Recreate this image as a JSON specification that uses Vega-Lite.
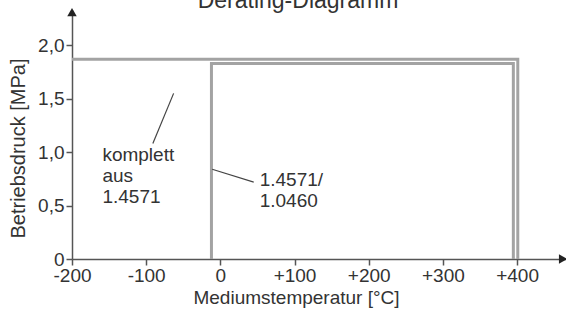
{
  "$schema": "https://vega.github.io/schema/vega-lite/v6.json",
  "autosize": "none",
  "width": 494,
  "height": 249,
  "padding": {"left": 72, "top": 10, "right": 0, "bottom": 54},
  "background": "white",
  "title": {"text": "Derating-Diagramm", "fontSize": 23, "font": "Liberation Sans", "fontWeight": "normal", "color": "#333", "dx": -21, "dy": 23, "baseline": "alphabetic", "offset": 0},
  "config": {
    "view": {"stroke": null},
    "font": "Liberation Sans",
    "axis": {"grid": false, "domainColor": "#555", "domainWidth": 1.5, "tickColor": "#555", "tickWidth": 1.5, "tickSize": 6, "labelFont": "Liberation Sans", "labelFontSize": 19, "labelColor": "#333", "titleFont": "Liberation Sans", "titleFontSize": 19, "titleFontWeight": "normal", "titleColor": "#333"}
  },
  "datasets": {
    "curves": [
      {"series": "komplett", "order": 1, "temp": -200, "druck": 1.87},
      {"series": "komplett", "order": 2, "temp": 401, "druck": 1.87},
      {"series": "komplett", "order": 3, "temp": 401, "druck": 0},
      {"series": "mix", "order": 1, "temp": -12, "druck": 0},
      {"series": "mix", "order": 2, "temp": -12, "druck": 1.83},
      {"series": "mix", "order": 3, "temp": 395, "druck": 1.83},
      {"series": "mix", "order": 4, "temp": 395, "druck": 0}
    ],
    "leaders": [
      {"id": "a", "order": 1, "temp": -91, "druck": 1.08},
      {"id": "a", "order": 2, "temp": -63, "druck": 1.55},
      {"id": "b", "order": 1, "temp": -11, "druck": 0.84},
      {"id": "b", "order": 2, "temp": 45, "druck": 0.72}
    ],
    "labels": [
      {"text": "komplett", "temp": -159, "druck": 0.97},
      {"text": "aus", "temp": -159, "druck": 0.78},
      {"text": "1.4571", "temp": -159, "druck": 0.58},
      {"text": "1.4571/", "temp": 53, "druck": 0.74},
      {"text": "1.0460", "temp": 53, "druck": 0.54}
    ],
    "arrows": [
      {"dir": "up", "temp": -200, "druck": 2.31},
      {"dir": "right", "temp": 462, "druck": 0}
    ]
  },
  "layer": [
    {
      "data": {"name": "curves"},
      "mark": {"type": "line", "strokeWidth": 3, "color": "#a3a3a3", "strokeJoin": "miter"},
      "encoding": {
        "x": {"field": "temp", "type": "quantitative", "scale": {"domain": [-200, 466], "nice": false, "zero": false},
          "axis": {"values": [-200, -100, 0, 100, 200, 300, 400], "labelExpr": "datum.value > 0 ? '+' + datum.value : '' + datum.value", "labelPadding": 1, "title": "Mediumstemperatur [°C]", "titleX": 224, "titleY": 38, "titleBaseline": "middle", "titleAnchor": "start", "titleAlign": "center", "labelFlush": false}},
        "y": {"field": "druck", "type": "quantitative", "scale": {"domain": [0, 2.33], "nice": false},
          "axis": {"values": [0, 0.5, 1, 1.5, 2], "labelExpr": "datum.value == 0 ? '0' : replace(format(datum.value, '.1f'), '.', ',')", "labelPadding": 2, "title": "Betriebsdruck [MPa]", "titleFontSize": 20, "titleX": -54, "titleY": 138, "titleAngle": -90, "titleBaseline": "middle", "titleAlign": "center", "labelFlush": false}},
        "detail": {"field": "series"},
        "order": {"field": "order"}
      }
    },
    {
      "data": {"name": "leaders"},
      "mark": {"type": "line", "strokeWidth": 1.2, "color": "#444"},
      "encoding": {
        "x": {"field": "temp", "type": "quantitative"},
        "y": {"field": "druck", "type": "quantitative"},
        "detail": {"field": "id"},
        "order": {"field": "order"}
      }
    },
    {
      "data": {"name": "labels"},
      "mark": {"type": "text", "align": "left", "baseline": "middle", "fontSize": 19, "color": "#333", "font": "Liberation Sans"},
      "encoding": {
        "x": {"field": "temp", "type": "quantitative"},
        "y": {"field": "druck", "type": "quantitative"},
        "text": {"field": "text"}
      }
    },
    {
      "data": {"name": "arrows"},
      "mark": {"type": "point", "filled": true, "color": "#222", "size": 90, "opacity": 1},
      "encoding": {
        "x": {"field": "temp", "type": "quantitative"},
        "y": {"field": "druck", "type": "quantitative"},
        "shape": {"field": "dir", "type": "nominal", "scale": {"domain": ["up", "right"], "range": ["triangle-up", "triangle-right"]}, "legend": null}
      }
    }
  ]
}
